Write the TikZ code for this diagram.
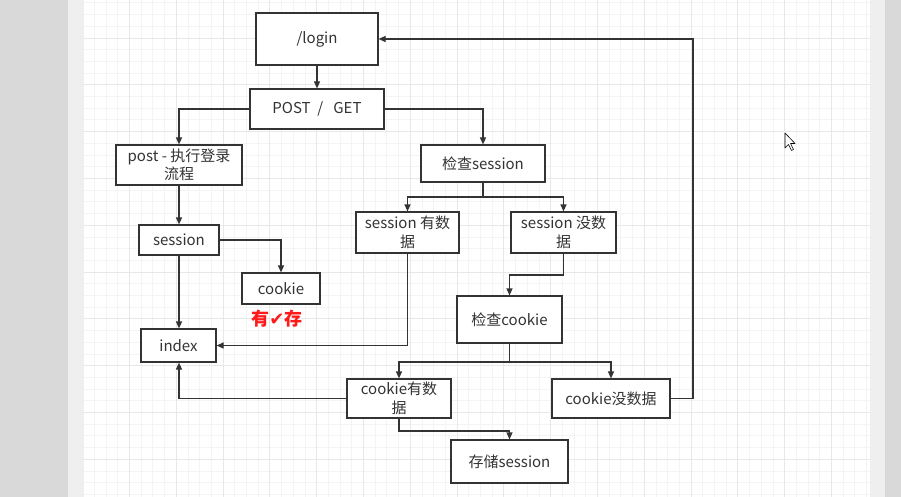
\documentclass[tikz,border=0pt]{standalone}
\usepackage{fontspec}
\setmainfont{Noto Sans CJK SC}
\newfontfamily\dejavu{DejaVu Sans}
\usetikzlibrary{arrows.meta}
\definecolor{ln}{HTML}{333333}
\definecolor{outerg}{HTML}{D9D9D9}
\definecolor{strip}{HTML}{EFEFEF}
\definecolor{minorg}{HTML}{F4F4F4}
\definecolor{majorg}{HTML}{E8E8E8}
\definecolor{redtxt}{HTML}{FF1A1A}
\begin{document}
\begin{tikzpicture}[x=1pt,y=-1pt,
  box/.style={draw=ln, line width=1.2pt, fill=white, inner sep=0pt, align=center,
    font=\fontsize{15}{18.5}\selectfont, text=ln},
  conn/.style={draw=ln, line width=1.2pt, -{Triangle[length=7pt,width=6pt]}}]
\useasboundingbox (0,0) rectangle (901,497);
% background
\fill[outerg] (0,0) rectangle (901,497);
\fill[strip] (68,0) rectangle (885,497);
\fill[white] (84,0) rectangle (870,497);
\begin{scope}
\clip (84,0) rectangle (870,497);
\foreach \k in {0,...,68} {
  \draw[minorg, line width=0.8pt] ({82.6+11.7*\k},0) -- ({82.6+11.7*\k},497);
}
\foreach \k in {0,...,43} {
  \draw[minorg, line width=0.8pt] (84,{-8.8+11.7*\k}) -- (870,{-8.8+11.7*\k});
}
\foreach \k in {0,...,17} {
  \draw[majorg, line width=0.9pt] ({82.6+46.8*\k},0) -- ({82.6+46.8*\k},497);
}
\foreach \k in {0,...,11} {
  \draw[majorg, line width=0.9pt] (84,{-8.8+46.8*\k}) -- (870,{-8.8+46.8*\k});
}
\end{scope}
% nodes
\node[box, minimum width=122pt, minimum height=52pt] (login) at (317,39) {/login};
\node[box, minimum width=134pt, minimum height=40pt] (pg) at (317,109) {POST \ / \ \ GET};
\node[box, minimum width=126pt, minimum height=40pt] (post) at (179,165) {post - 执行登录\\流程};
\node[box, minimum width=124pt, minimum height=37pt] (chks) at (483,163.5) {检查session};
\node[box, minimum width=80pt, minimum height=30pt] (sess) at (179,240) {session};
\node[box, minimum width=78pt, minimum height=31pt] (cookie) at (281,288.5) {cookie};
\node[font=\fontsize{18}{20}\selectfont\bfseries, text=redtxt] (mark) at (277,319) {有{\dejavu ✔}存};
\node[box, minimum width=75pt, minimum height=33pt] (index) at (178.5,345.5) {index};
\node[box, minimum width=103pt, minimum height=41pt] (shas) at (407.5,232.5) {session 有数\\据};
\node[box, minimum width=105pt, minimum height=41pt] (sno) at (563.5,232.5) {session 没数\\据};
\node[box, minimum width=105pt, minimum height=47pt] (chkc) at (509.5,319.5) {检查cookie};
\node[box, minimum width=104pt, minimum height=39pt] (chas) at (399,398.5) {cookie有数\\据};
\node[box, minimum width=118pt, minimum height=39pt] (cno) at (611,398.5) {cookie没数据};
\node[box, minimum width=117pt, minimum height=43pt] (store) at (509.5,461.5) {存储session};
% junctions
\coordinate (j1) at (483,197);
\coordinate (j2) at (563.5,275);
\coordinate (j3) at (509.5,362);
\coordinate (j4) at (399,431);
\coordinate (j5) at (693,39);
% connectors
\draw[conn] (login) -- (pg);
\draw[conn] (pg) -| (post);
\draw[conn] (pg) -| (chks);
\draw[conn] (post) -- (sess);
\draw[conn] (sess) -| (cookie);
\draw[conn] (sess) -- (sess |- index.north);
\draw[conn] (chks) -- (j1) -| (shas);
\draw[conn] (j1) -| (sno);
\draw[conn] (shas) |- (index);
\draw[conn] (sno) -- (j2) -| (chkc);
\draw[conn] (chkc) -- (j3) -| (chas);
\draw[conn] (j3) -| (cno);
\draw[conn] (chas) -| (sess |- index.south);
\draw[conn] (chas) -- (j4) -| (store);
\draw[conn] (cno) -| (j5) -- (login);
% mouse cursor
\draw[fill=white, draw=black, line width=0.6pt, line join=round]
  (785,133) -- (785,148) -- (788.5,144.5) -- (791.5,150.5) -- (793.5,149.5) -- (790.5,143.5) -- (795,143.5) -- cycle;
\end{tikzpicture}
\end{document}
